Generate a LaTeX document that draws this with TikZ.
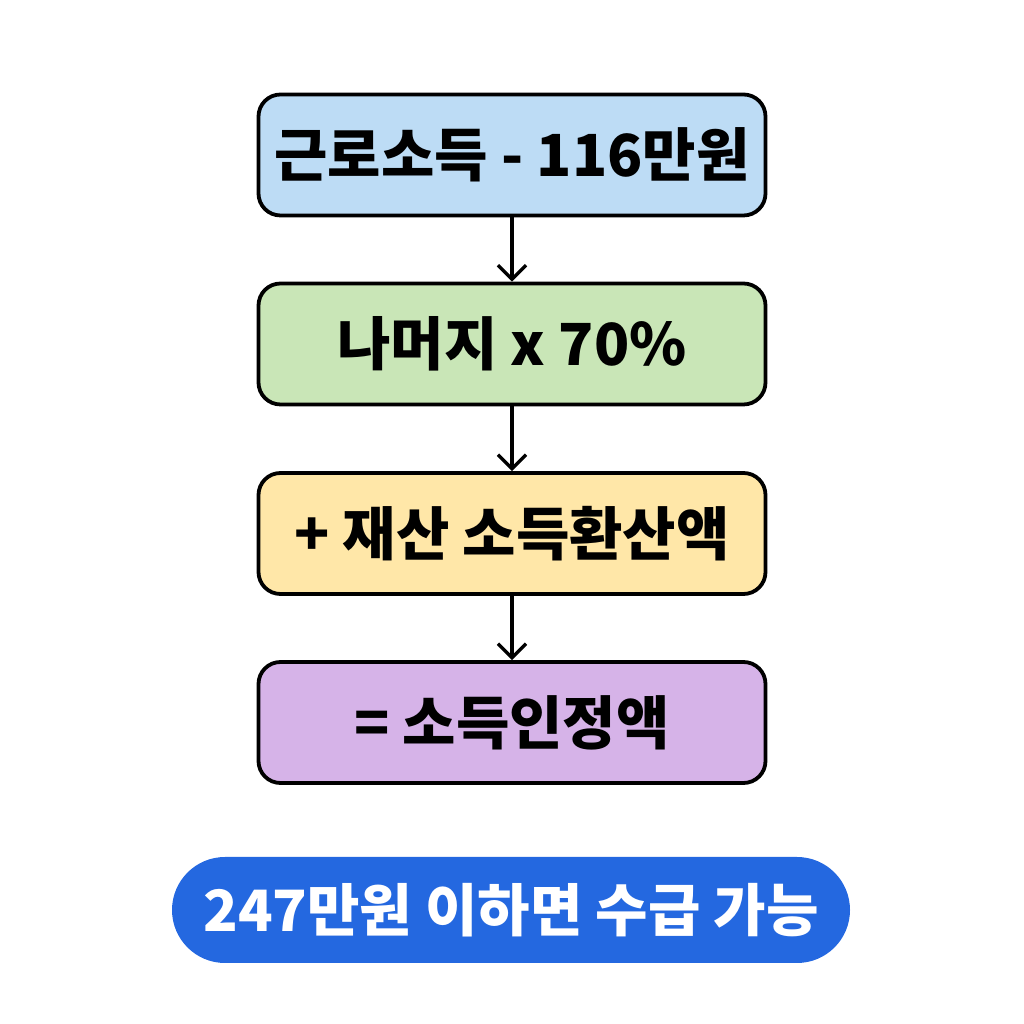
\documentclass[tikz,border=0pt]{standalone}
\usepackage{fontspec}
\setmainfont{Noto Sans CJK KR}[BoldFont={Noto Sans CJK KR Black}]
\usetikzlibrary{arrows.meta}
\definecolor{cblue}{HTML}{BDDCF5}
\definecolor{cgreen}{HTML}{C9E6B7}
\definecolor{cyellow}{HTML}{FFE7A8}
\definecolor{cpurple}{HTML}{D6B3E8}
\definecolor{cpill}{HTML}{2468E0}
\begin{document}
\begin{tikzpicture}[x=1pt,y=1pt,
  stepbox/.style={draw=black,line width=3.8pt,rounded corners=22pt,minimum width=507pt,minimum height=121pt,inner sep=0pt,font=\fontsize{58}{64}\selectfont\bfseries},
  link/.style={line width=3.6pt,-{Straight Barb[length=14pt,width=28pt,line width=3.4pt]}}]
\useasboundingbox (0,0) rectangle (1024,1024);
\node[stepbox,fill=cblue] (a) at (512,869) {근로소득 - 116만원};
\node[stepbox,fill=cgreen] (b) at (512,680) {나머지 x 70\%};
\node[stepbox,fill=cyellow] (c) at (512,490.5) {+ 재산 소득환산액};
\node[stepbox,fill=cpurple] (d) at (512,301.5) {= 소득인정액};
\node[fill=cpill,text=white,rounded corners=53pt,minimum width=678pt,minimum height=106pt,inner sep=0pt,font=\fontsize{57}{62}\selectfont\bfseries] (e) at (511,114) {247만원 이하면 수급 가능};
\draw[link] (a) -- (b);
\draw[link] (b) -- (c);
\draw[link] (c) -- (d);
\end{tikzpicture}
\end{document}
